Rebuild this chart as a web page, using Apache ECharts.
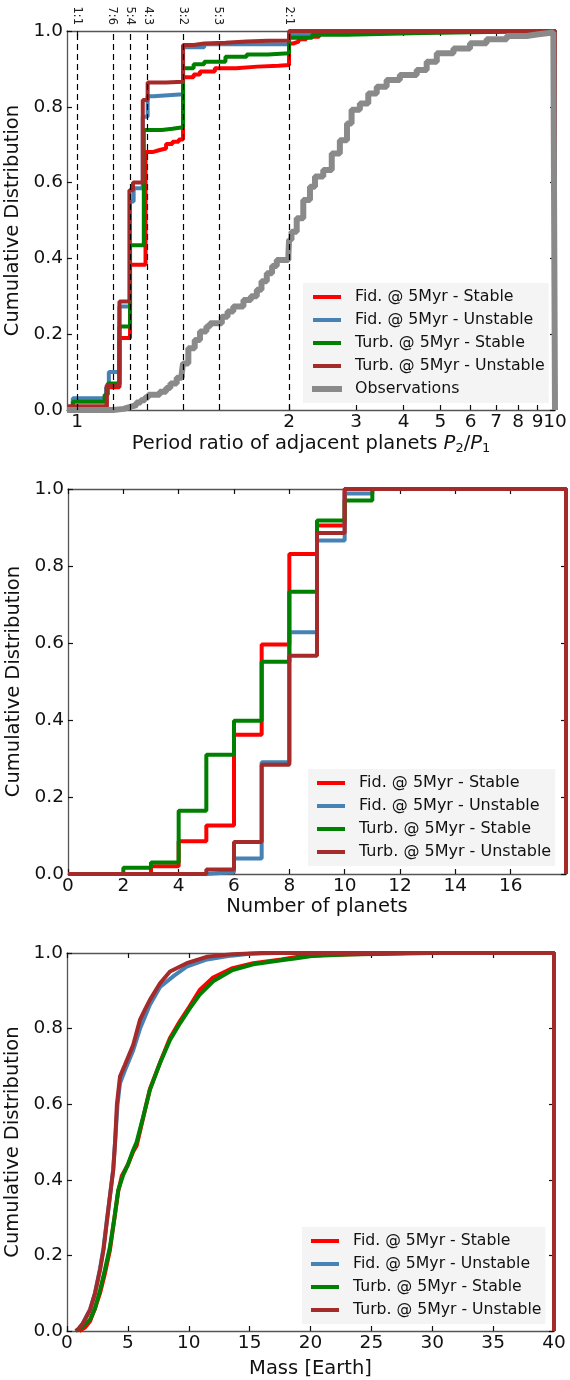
<!DOCTYPE html>
<html>
<head>
<meta charset="utf-8">
<script src="https://cdn.jsdelivr.net/npm/echarts@6/dist/echarts.min.js"></script>
<style>
  html, body { margin: 0; padding: 0; background: #fff; }
  #main { width: 570px; height: 1380px; }
</style>
</head>
<body>
<div id="main"></div>
<script>
// ---------- data ----------
const nameFidStable = 'Fid. @ 5Myr - Stable';
const nameFidUnstable = 'Fid. @ 5Myr - Unstable';
const nameTurbStable = 'Turb. @ 5Myr - Stable';
const nameTurbUnstable = 'Turb. @ 5Myr - Unstable';
const nameObs = 'Observations';

// panel 1: period ratio of adjacent planets (step CDFs: jump position, value after jump)
const ratioFidStableX = [0.953, 1.0, 1.14, 1.2, 1.25, 1.323, 1.36, 1.39, 1.42, 1.45, 1.48, 1.5, 1.55, 1.58, 1.65, 1.75, 1.85, 1.95, 2.0, 2.05, 2.12, 2.22, 2.4, 2.56, 3.0, 10];
const ratioFidStableY = [0, 0.005, 0.06, 0.19, 0.383, 0.681, 0.686, 0.69, 0.702, 0.708, 0.714, 0.878, 0.885, 0.893, 0.902, 0.906, 0.908, 0.91, 0.967, 0.972, 0.978, 0.985, 0.992, 0.995, 1.0, 0];
const ratioFidUnstableX = [0.953, 0.98, 1.137, 1.15, 1.2, 1.25, 1.267, 1.31, 1.333, 1.36, 1.5, 1.6, 2.0, 2.3, 10];
const ratioFidUnstableY = [0, 0.031, 0.06, 0.1, 0.273, 0.55, 0.585, 0.774, 0.828, 0.833, 0.957, 0.965, 0.99, 1.0, 0];
const ratioTurbStableX = [0.953, 0.98, 1.13, 1.145, 1.2, 1.25, 1.315, 1.4, 1.45, 1.5, 1.55, 1.6, 1.7, 1.8, 1.9, 2.0, 2.3, 2.84, 4.5, 10];
const ratioTurbStableY = [0, 0.022, 0.04, 0.07, 0.22, 0.435, 0.739, 0.742, 0.746, 0.902, 0.912, 0.919, 0.932, 0.938, 0.941, 0.982, 0.99, 0.995, 1.0, 0];
const ratioTurbUnstableX = [0.953, 1.14, 1.2, 1.247, 1.264, 1.31, 1.333, 1.42, 1.5, 1.55, 1.6, 1.7, 1.8, 1.9, 2.0, 10];
const ratioTurbUnstableY = [0.01, 0.065, 0.286, 0.58, 0.6, 0.818, 0.864, 0.866, 0.963, 0.967, 0.969, 0.972, 0.974, 0.975, 1.0, 0];
const ratioObsX = [0.953, 1.17, 1.22, 1.25, 1.28, 1.30, 1.32, 1.336, 1.39, 1.42, 1.44, 1.47, 1.494, 1.50, 1.525, 1.555, 1.58, 1.61, 1.627, 1.683, 1.71, 1.737, 1.785, 1.82, 1.848, 1.87, 1.895, 1.92, 1.942, 1.997, 2.0, 2.03, 2.095, 2.18, 2.27, 2.34, 2.46, 2.59, 2.72, 2.84, 2.92, 3.07, 3.23, 3.40, 3.61, 3.91, 4.33, 4.60, 4.89, 5.41, 5.98, 6.61, 7.47, 8.43, 8.95, 9.51, 9.9, 10];
const ratioObsY = [0, 0.003, 0.008, 0.013, 0.02, 0.026, 0.033, 0.04, 0.048, 0.058, 0.07, 0.085, 0.097, 0.123, 0.163, 0.185, 0.207, 0.22, 0.229, 0.246, 0.26, 0.273, 0.29, 0.30, 0.317, 0.34, 0.361, 0.38, 0.396, 0.409, 0.449, 0.47, 0.506, 0.554, 0.589, 0.616, 0.633, 0.677, 0.712, 0.756, 0.792, 0.809, 0.835, 0.853, 0.871, 0.884, 0.897, 0.919, 0.941, 0.954, 0.968, 0.978, 0.987, 0.991, 0.994, 0.996, 1.0, 0];
const resonanceRatios = [1, 7 / 6, 5 / 4, 4 / 3, 3 / 2, 5 / 3, 2];
const resonanceLabels = ['1:1', '7:6', '5:4', '4:3', '3:2', '5:3', '2:1'];
const ratioTicks = [1, 2, 3, 4, 5, 6, 7, 8, 9, 10];

// panel 2: number of planets
const nPlanetsX = [0, 2, 3, 4, 5, 6, 7, 8, 9, 10, 11, 18];
const nFidStableY = [0, 0, 0.02, 0.085, 0.126, 0.362, 0.596, 0.831, 0.905, 1.0, 1.0, 0];
const nFidUnstableY = [0, 0, 0, 0, 0.005, 0.04, 0.29, 0.628, 0.866, 0.988, 1.0, 0];
const nTurbStableY = [0, 0.016, 0.03, 0.164, 0.31, 0.398, 0.551, 0.733, 0.918, 0.97, 1.0, 0];
const nTurbUnstableY = [0, 0, 0, 0, 0.012, 0.083, 0.284, 0.567, 0.886, 1.0, 1.0, 0];

// panel 3: mass [Earth]
const massFidStableX = [1.0, 1.5, 1.89, 2.3, 2.71, 3.1, 3.53, 3.9, 4.21, 4.5, 5.0, 5.44, 5.72, 6.26, 6.81, 7.64, 8.46, 9.28, 10.1, 10.9, 12, 13.6, 15.3, 17.6, 19, 21, 25, 28, 40, 40];
const massFidStableY = [0, 0.01, 0.026, 0.06, 0.1, 0.15, 0.215, 0.3, 0.37, 0.41, 0.44, 0.475, 0.49, 0.565, 0.64, 0.71, 0.775, 0.82, 0.86, 0.902, 0.935, 0.96, 0.973, 0.983, 0.99, 0.995, 0.998, 1.0, 1.0, 0];
const massFidUnstableX = [0.8, 1.3, 1.9, 2.3, 2.71, 3.0, 3.26, 3.5, 3.8, 3.95, 4.15, 4.35, 4.76, 5.44, 6.0, 6.81, 7.64, 8.8, 9.83, 11.5, 13.5, 15, 17, 40, 40];
const massFidUnstableY = [0, 0.02, 0.058, 0.1, 0.165, 0.22, 0.29, 0.35, 0.43, 0.5, 0.6, 0.655, 0.69, 0.743, 0.8, 0.863, 0.91, 0.94, 0.964, 0.983, 0.993, 0.998, 1.0, 1.0, 0];
const massTurbStableX = [0.7, 1.3, 1.89, 2.3, 2.71, 3.1, 3.53, 3.9, 4.21, 4.62, 5.0, 5.44, 5.72, 6.26, 6.81, 7.64, 8.46, 9.28, 10.1, 10.9, 12, 13.6, 15.3, 17.6, 18.86, 20.1, 23, 26.5, 30, 40, 40];
const massTurbStableY = [0, 0.012, 0.03, 0.06, 0.108, 0.16, 0.223, 0.3, 0.373, 0.413, 0.44, 0.479, 0.5, 0.567, 0.638, 0.709, 0.77, 0.814, 0.854, 0.89, 0.925, 0.955, 0.97, 0.981, 0.986, 0.992, 0.996, 0.998, 1.0, 1.0, 0];
const massTurbUnstableX = [0.8, 1.3, 1.9, 2.3, 2.71, 3.0, 3.26, 3.5, 3.8, 3.95, 4.1, 4.35, 4.76, 5.44, 5.99, 6.4, 6.81, 7.64, 8.46, 9.83, 11.47, 13.6, 16, 40, 40];
const massTurbUnstableY = [0, 0.02, 0.056, 0.1, 0.161, 0.215, 0.285, 0.35, 0.426, 0.5, 0.6, 0.673, 0.704, 0.757, 0.823, 0.85, 0.876, 0.92, 0.951, 0.973, 0.99, 0.997, 1.0, 1.0, 0];

// ---------- styles ----------
const FONT = 'DejaVu Sans';
const cRed = '#ff0000', cBlue = '#4682b4', cGreen = '#008000', cBrown = '#a52a2a', cGrey = '#8a8a8a';

// period ratio axis: linear between 1 and 2, logarithmic above 2
const K_LOG = 380.5 / 212;
function tRatio(x) { return x <= 2 ? x - 1 : 1 + Math.log10(x / 2) * K_LOG; }
function invRatio(t) { return t <= 1 ? t + 1 : 2 * Math.pow(10, (t - 1) / K_LOG); }

function pairs(xs, ys, f) {
    return xs.map((x, i) => [f ? f(x) : x, ys[i]]);
}

const axisLine = { show: true, onZero: false, lineStyle: { color: '#555', width: 1.3 } };
const axisTick = { show: true, inside: true, length: 5, lineStyle: { color: '#111', width: 1.2 } };
const tickFont = { color: '#111', fontSize: 18.5, fontFamily: FONT };
const nameFont = { color: '#111', fontSize: 19.5, fontFamily: FONT };

function yAxes(gridIndex) {
    return [{
        type: 'value', gridIndex: gridIndex, position: 'left', min: 0, max: 1, interval: 0.2,
        axisLine: axisLine, axisTick: axisTick, splitLine: { show: false },
        axisLabel: Object.assign({ margin: 4, formatter: v => v.toFixed(1) }, tickFont),
        name: 'Cumulative Distribution', nameLocation: 'middle', nameGap: 32, nameRotate: 90,
        nameTextStyle: nameFont
    }, {
        type: 'value', gridIndex: gridIndex, position: 'right', min: 0, max: 1, interval: 0.2,
        axisLine: axisLine, axisTick: axisTick, splitLine: { show: false },
        axisLabel: { show: false }
    }];
}

function line(name, color, data, xi, step, width) {
    return {
        name: name, type: 'line', data: data, xAxisIndex: xi, yAxisIndex: xi,
        step: step ? 'end' : false, showSymbol: false, symbol: 'none',
        color: color, lineStyle: { color: color, width: width || 4 },
        animation: false
    };
}

function legend(left, top, names, fontSize) {
    return {
        left: left, top: top, orient: 'vertical', icon: 'rect',
        itemWidth: 28, itemHeight: 4, itemGap: 5,
        padding: [5, 4, 5, 9], backgroundColor: '#f4f4f4',
        textStyle: { fontSize: fontSize, fontFamily: FONT, color: '#111', lineHeight: 18, padding: [0, 0, 0, 9] },
        selectedMode: false,
        data: names.map(n => n === nameObs
            ? { name: n, itemStyle: { borderColor: cGrey, borderWidth: 2 } }
            : { name: n })
    };
}

const simNames = [nameFidStable, nameFidUnstable, nameTurbStable, nameTurbUnstable];

const chart = echarts.init(document.getElementById('main'));

const series = [
    // panel 1
    Object.assign(line(nameFidStable, cRed, pairs(ratioFidStableX, ratioFidStableY, tRatio), 0, true), {
        markLine: {
            silent: true, symbol: ['none', 'none'], label: { show: false }, animation: false,
            lineStyle: { color: '#000', type: [6, 4], width: 1.2 },
            data: resonanceRatios.map(r => ({ xAxis: tRatio(r) }))
        }
    }),
    line(nameFidUnstable, cBlue, pairs(ratioFidUnstableX, ratioFidUnstableY, tRatio), 0, true),
    line(nameTurbStable, cGreen, pairs(ratioTurbStableX, ratioTurbStableY, tRatio), 0, true),
    line(nameTurbUnstable, cBrown, pairs(ratioTurbUnstableX, ratioTurbUnstableY, tRatio), 0, true),
    line(nameObs, cGrey, pairs(ratioObsX, ratioObsY, tRatio), 0, true, 6),
    // panel 2
    line(nameFidStable, cRed, pairs(nPlanetsX, nFidStableY), 2, true),
    line(nameFidUnstable, cBlue, pairs(nPlanetsX, nFidUnstableY), 2, true),
    line(nameTurbStable, cGreen, pairs(nPlanetsX, nTurbStableY), 2, true),
    line(nameTurbUnstable, cBrown, pairs(nPlanetsX, nTurbUnstableY), 2, true),
    // panel 3
    line(nameFidStable, cRed, pairs(massFidStableX, massFidStableY), 4, false),
    line(nameFidUnstable, cBlue, pairs(massFidUnstableX, massFidUnstableY), 4, false),
    line(nameTurbStable, cGreen, pairs(massTurbStableX, massTurbStableY), 4, false),
    line(nameTurbUnstable, cBrown, pairs(massTurbUnstableX, massTurbUnstableY), 4, false)
];

const ratioMin = tRatio(10) - 488 / 212;
const ratioMax = tRatio(10);
const ratioLabel = v => String(Math.round(invRatio(v)));

chart.setOption({
    animation: false,
    backgroundColor: '#fff',
    grid: [
        { left: 67, top: 31, width: 488, height: 379, containLabel: false, outerBoundsMode: 'none' },
        { left: 68, top: 489, width: 498, height: 385, containLabel: false, outerBoundsMode: 'none' },
        { left: 67, top: 953, width: 487, height: 378, containLabel: false, outerBoundsMode: 'none' }
    ],
    xAxis: [
        {
            type: 'value', gridIndex: 0, position: 'bottom', min: ratioMin, max: ratioMax,
            axisLine: axisLine, splitLine: { show: false },
            axisTick: Object.assign({}, axisTick, { customValues: ratioTicks.map(tRatio) }),
            axisLabel: Object.assign({
                margin: 3, showMinLabel: true, showMaxLabel: true,
                customValues: ratioTicks.slice(0, -1).map(tRatio),
                formatter: ratioLabel
            }, tickFont),
            name: 'Period ratio of adjacent planets {i|P}{s|2}{n|/}{i|P}{s|1}',
            nameLocation: 'middle', nameGap: 22,
            nameTextStyle: Object.assign({
                rich: {
                    i: { fontStyle: 'italic', fontSize: 19.5, fontFamily: FONT, color: '#111' },
                    n: { fontSize: 19.5, fontFamily: FONT, color: '#111' },
                    s: { fontSize: 13, fontFamily: FONT, color: '#111', padding: [10, 0, 0, 0] }
                }
            }, nameFont)
        },
        {
            type: 'value', gridIndex: 0, position: 'top', min: ratioMin, max: ratioMax,
            axisLine: axisLine, splitLine: { show: false },
            axisTick: Object.assign({}, axisTick, { customValues: ratioTicks.map(tRatio) }),
            axisLabel: {
                rotate: 90, margin: 6, fontSize: 11.5, fontFamily: FONT, color: '#222',
                customValues: resonanceRatios.map(tRatio),
                formatter: v => {
                    const i = resonanceRatios.findIndex(r => Math.abs(tRatio(r) - v) < 1e-6);
                    return i >= 0 ? resonanceLabels[i] : '';
                }
            }
        },
        {
            type: 'value', gridIndex: 1, position: 'bottom', min: 0, max: 18, interval: 2,
            axisLine: axisLine, axisTick: axisTick, splitLine: { show: false },
            axisLabel: Object.assign({ margin: 3, showMaxLabel: false }, tickFont),
            name: 'Number of planets', nameLocation: 'middle', nameGap: 22, nameTextStyle: nameFont
        },
        {
            type: 'value', gridIndex: 1, position: 'top', min: 0, max: 18, interval: 2,
            axisLine: axisLine, axisTick: axisTick, splitLine: { show: false },
            axisLabel: { show: false }
        },
        {
            type: 'value', gridIndex: 2, position: 'bottom', min: 0, max: 40, interval: 5,
            axisLine: axisLine, axisTick: axisTick, splitLine: { show: false },
            axisLabel: Object.assign({ margin: 3 }, tickFont),
            name: 'Mass [Earth]', nameLocation: 'middle', nameGap: 28, nameTextStyle: nameFont
        },
        {
            type: 'value', gridIndex: 2, position: 'top', min: 0, max: 40, interval: 5,
            axisLine: axisLine, axisTick: axisTick, splitLine: { show: false },
            axisLabel: { show: false }
        },
        {
            // second bottom axis of panel 1 carrying only the "10" label (kept apart so "9" is not hidden)
            type: 'value', gridIndex: 0, position: 'bottom', min: ratioMin, max: ratioMax,
            axisLine: { show: false }, axisTick: { show: false }, splitLine: { show: false },
            axisLabel: Object.assign({
                margin: 3, showMaxLabel: true,
                customValues: [tRatio(10)], formatter: ratioLabel
            }, tickFont)
        }
    ],
    yAxis: [].concat(yAxes(0), yAxes(1), yAxes(2)),
    legend: [
        legend(303, 283, simNames.concat([nameObs]), 15.8),
        legend(308, 769, simNames, 16),
        legend(302, 1227, simNames, 15.7)
    ],
    series: series
});
</script>
</body>
</html>
